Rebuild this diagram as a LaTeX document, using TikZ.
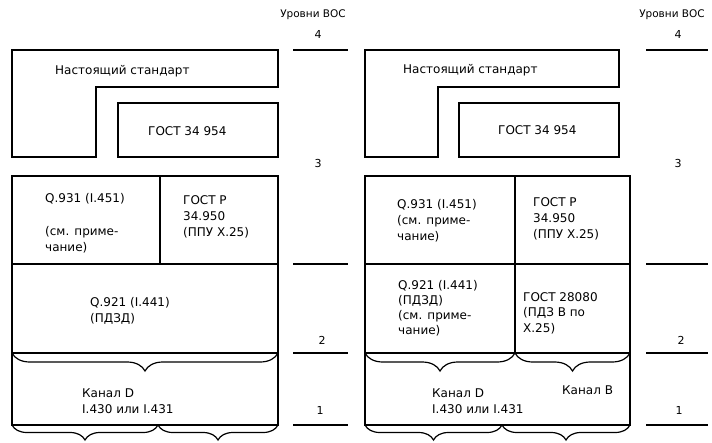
\documentclass[tikz,border=0pt]{standalone}
\usepackage{fontspec}
\setmainfont{DejaVu Sans}
\usetikzlibrary{decorations.pathreplacing}

\begin{document}
\begin{tikzpicture}[x=1pt,y=-1pt,
  frame/.style={draw,line width=1.2pt},
  lvl/.style={line width=1.2pt},
  txt/.style={anchor=west,inner sep=0pt,align=left,font=\fontsize{12}{16}\selectfont},
  head/.style={inner sep=0pt,font=\fontsize{10.5}{12}\selectfont},
  num/.style={inner sep=0pt,font=\fontsize{11}{12}\selectfont},
  brc/.style={decorate,decoration={brace,mirror,amplitude=#1},line width=1.2pt},
]
  \useasboundingbox (0,0) rectangle (712,442);

  % levels, left
  \node[head] (hdl) at (313,15) {Уровни ВОС};
  \node[num] (l4) at (318,34) {4};
  \node[num] (l3) at (318,163) {3};
  \node[num] (l2) at (322,340) {2};
  \node[num] (l1) at (320,410) {1};
  \foreach \y in {50,264,353,425}
    \draw[lvl] (293,\y) -- (348,\y);

  % levels, right
  \node[head] (hdr) at (672,15) {Уровни ВОС};
  \node[num] (r4) at (678,34) {4};
  \node[num] (r3) at (678,163) {3};
  \node[num] (r2) at (681,340) {2};
  \node[num] (r1) at (679,410) {1};
  \foreach \y in {50,264,353,425}
    \draw[lvl] (646,\y) -- (708,\y);

  % left scheme
  \draw[frame] (12,50) -- (278,50) -- (278,87) -- (96,87) -- (96,157) -- (12,157) -- cycle;
  \node[txt] (nsl) at (55,71) {Настоящий стандарт};
  \draw[frame] (118,103) rectangle (278,157);
  \node[txt] (g954l) at (148,131) {ГОСТ 34 954};

  \draw[frame] (12,176) rectangle (278,425);
  \draw[frame] (160,176) -- (160,264);
  \draw[frame] (12,264) -- (278,264);
  \draw[frame] (12,353) -- (278,353);
  \draw[brc=18pt] (12,353) -- (278,353);
  \draw[brc=15pt] (12,425) -- (158,425);
  \draw[brc=15pt] (158,425) -- (278,425);

  \node[txt] (q931l) at (45,199) {Q.931 (I.451)};
  \node[txt] (sml) at (45,240) {(см. приме-\\чание)};
  \node[txt] (g950l) at (183,217) {ГОСТ Р\\34.950\\(ППУ X.25)};
  \node[txt] (q921l) at (90,311) {Q.921 (I.441)\\(ПДЗД)};
  \node[txt] (kdl) at (82,401) {Канал D\\I.430 или I.431};

  % right scheme
  \draw[frame] (365,50) -- (619,50) -- (619,87) -- (438,87) -- (438,157) -- (365,157) -- cycle;
  \node[txt] (nsr) at (403,70) {Настоящий стандарт};
  \draw[frame] (459,103) rectangle (619,157);
  \node[txt] (g954r) at (498,130) {ГОСТ 34 954};

  \draw[frame] (365,176) rectangle (630,425);
  \draw[frame] (515,176) -- (515,353);
  \draw[frame] (365,264) -- (630,264);
  \draw[frame] (365,353) -- (630,353);
  \draw[brc=18pt] (365,353) -- (515,353);
  \draw[brc=18pt] (515,353) -- (630,353);
  \draw[brc=15pt] (365,425) -- (502,425);
  \draw[brc=15pt] (502,425) -- (630,425);

  \node[txt] (q931r) at (397,221) {Q.931 (I.451)\\(см. приме-\\чание)};
  \node[txt] (g950r) at (533,219) {ГОСТ Р\\34.950\\(ППУ X.25)};
  \node[txt,font=\fontsize{12}{15}\selectfont] (q921r) at (398,308) {Q.921 (I.441)\\(ПДЗД)\\(см. приме-\\чание)};
  \node[txt,font=\fontsize{12}{15.5}\selectfont] (g28080r) at (523,313) {ГОСТ 28080\\(ПДЗ В по\\X.25)};
  \node[txt] (kdr) at (432,401) {Канал D\\I.430 или I.431};
  \node[txt] (kbr) at (562,390) {Канал В};
\end{tikzpicture}
\end{document}
